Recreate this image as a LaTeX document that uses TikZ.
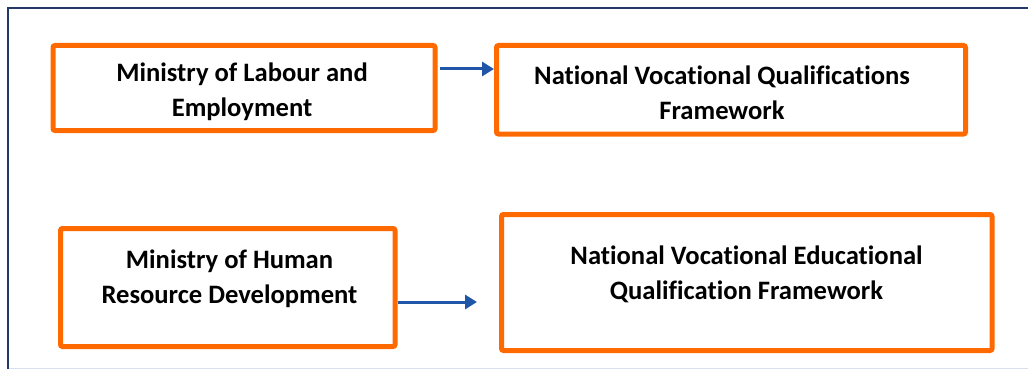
\documentclass[tikz,border=0pt]{standalone}
\usepackage{fontspec}
\setmainfont{Carlito}[BoldFont={Carlito Bold}, Ligatures=NoCommon]
\usetikzlibrary{arrows.meta}
\definecolor{boxorange}{HTML}{FF6A00}
\definecolor{arrowblue}{HTML}{1F56A8}
\definecolor{framenavy}{HTML}{22396A}
\definecolor{framelight}{HTML}{D8E0EE}
\tikzset{
  box/.style={draw=boxorange, line width=5pt, rounded corners=2pt, fill=white, inner sep=0pt},
  txt/.style={font=\bfseries\fontsize{26.6}{35}\selectfont, align=center, text=black, inner sep=0pt},
  link/.style={draw=arrowblue, line width=3pt, -{Triangle[length=12pt,width=14pt]}}
}
\begin{document}
\begin{tikzpicture}[x=1pt,y=-1pt]
\useasboundingbox (0,0) rectangle (1028,369);
% outer frame
\draw[framenavy, line width=2pt] (1030,8) -- (8,8) -- (8,371);
\draw[framelight, line width=1.2pt] (9,368.3) -- (1030,368.3);

% boxes
\node[box, minimum width=382pt, minimum height=85pt] (b1) at (244,88) {};
\node[box, minimum width=469pt, minimum height=88.5pt] (b2) at (731,89.75) {};
\node[box, minimum width=334.5pt, minimum height=118pt] (b3) at (227.75,287.5) {};
\node[box, minimum width=490.5pt, minimum height=136pt] (b4) at (746.75,282.5) {};

% labels
\node[txt] (t1) at (242,92) {Ministry of Labour and\\Employment};
\node[txt] (t2) at (722,93) {National Vocational Qualifications\\Framework};
\node[txt] (t3) at (229.5,279) {Ministry of Human\\Resource Development};
\node[txt] (t4) at (746.5,274) {National Vocational Educational\\Qualification Framework};

% connectors
\draw[link] ([xshift=2pt,yshift=19pt]b1.east) -- ([yshift=20.75pt]b2.west);
\draw[link] ([yshift=-14.5pt]b3.east) -- ([xshift=-22pt,yshift=-19.5pt]b4.west);
\end{tikzpicture}
\end{document}
